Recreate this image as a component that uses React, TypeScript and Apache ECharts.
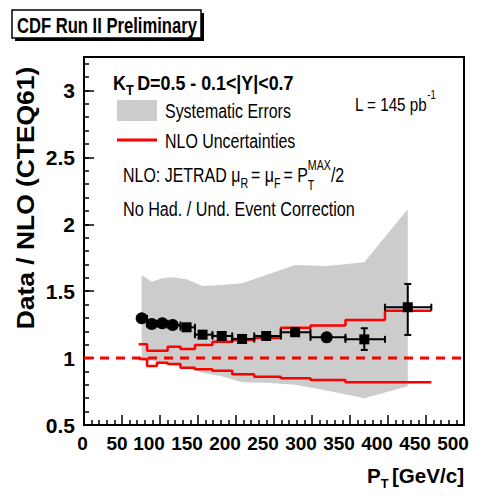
import React, { useEffect, useRef } from 'react';
import * as echarts from 'echarts';

const FONT = 'Liberation Sans, Arial, sans-serif';
const NARROW = 'Liberation Sans Narrow, Liberation Sans, Arial, sans-serif';

// pT bin edges [GeV/c]
const binEdges = [72, 83, 96, 110, 127, 146, 169, 195, 224, 259, 298, 344, 396, 457];
// data points
const ptValues = [75.9, 89.1, 103, 116.7, 135, 156, 181.2, 208, 239.7, 277.8, 319.3, 368.8, 426];
const ratioValues = [1.297, 1.255, 1.26, 1.247, 1.23, 1.175, 1.165, 1.143, 1.165, 1.193, 1.155, 1.14, 1.38];
const ratioErrUp = [0.015, 0.015, 0.015, 0.015, 0.015, 0.015, 0.015, 0.02, 0.02, 0.025, 0.03, 0.083, 0.174];
const ratioErrDown = [0.015, 0.015, 0.015, 0.015, 0.015, 0.015, 0.015, 0.02, 0.02, 0.025, 0.03, 0.079, 0.207];
const markerShapes = ['circle', 'circle', 'circle', 'circle', 'rect', 'rect', 'rect', 'rect', 'rect', 'rect', 'circle', 'rect', 'rect'];
// systematic error band
const sysUpper = [1.621, 1.571, 1.596, 1.604, 1.589, 1.539, 1.546, 1.559, 1.621, 1.696, 1.688, 1.716, 2.112];
const sysLower = [0.975, 0.985, 0.955, 0.945, 0.93, 0.89, 0.865, 0.82, 0.815, 0.8, 0.757, 0.7, 0.79];
// NLO uncertainty band (per bin)
const nloUpper = [1.103, 1.055, 1.055, 1.085, 1.068, 1.098, 1.123, 1.135, 1.15, 1.227, 1.244, 1.285, 1.354];
const nloLower = [0.993, 0.941, 0.966, 0.956, 0.928, 0.916, 0.906, 0.879, 0.861, 0.849, 0.836, 0.819, 0.819];
// axis ticks
const xTickLabels = ['0', '50', '100', '150', '200', '250', '300', '350', '400', '450', '500'];
const yTickLabels = ['0.5', '1', '1.5', '2', '2.5', '3'];

const stepData = (vals: number[]) =>
  binEdges.map((e, i) => [e, vals[Math.min(i, vals.length - 1)]]);

export default function App() {
  const ref = useRef<HTMLDivElement>(null);
  useEffect(() => {
    if (!ref.current) return;
    const chart = echarts.init(ref.current, undefined, { renderer: 'svg' });
    const axisLineStyle = { color: '#000', width: 2 };
    const xRich = (pad: number) => ({ fontSize: 19, fontWeight: 'bold', fontFamily: NARROW, color: '#000', padding: [0, pad, 0, 0] });
    const option: any = {
      animation: false,
      grid: { left: 84, right: 19, top: 57, bottom: 71, show: true, borderColor: '#000', borderWidth: 2, backgroundColor: 'rgba(0,0,0,0)' },
      xAxis: {
        type: 'value', min: 0, max: 500, interval: 50,
        axisLine: { lineStyle: axisLineStyle },
        axisTick: { inside: true, length: 10, lineStyle: { color: '#000', width: 1.5 } },
        minorTick: { show: true, splitNumber: 5, length: 5, lineStyle: { color: '#000', width: 1.5 } },
        splitLine: { show: false },
        axisLabel: {
          margin: 9, fontSize: 19, fontWeight: 'bold', color: '#000', fontFamily: NARROW,
          formatter: (v: number) => {
            const s = String(v);
            if (!xTickLabels.includes(s)) return '';
            return `{d${s.length}|${s}}`;
          },
          rich: { d1: xRich(3), d2: xRich(10), d3: xRich(22) },
        },
      },
      yAxis: [
        {
          type: 'value', min: 0.5, max: 3.25, interval: 0.5, position: 'left',
          axisLine: { lineStyle: axisLineStyle },
          axisTick: { inside: true, length: 10, lineStyle: { color: '#000', width: 1.5 } },
          splitLine: { show: false },
          axisLabel: {
            margin: 9, fontSize: 21, fontWeight: 'bold', color: '#000', fontFamily: NARROW,
            formatter: (v: number) => {
              const s = String(Math.round(v * 100) / 100);
              return yTickLabels.includes(s) ? s : '';
            },
          },
        },
        {
          type: 'value', min: 0.5, max: 3.25, interval: 0.1, position: 'left',
          axisLine: { show: false },
          axisTick: { inside: true, length: 5, lineStyle: { color: '#000', width: 1.5 } },
          splitLine: { show: false },
          axisLabel: { show: false },
        },
      ],
      series: [
        {
          type: 'custom', z: 1, data: [[0, 1]], encode: { x: 0, y: 1 }, silent: true,
          renderItem: (_p: any, api: any) => {
            const pts: number[][] = [];
            for (let i = 0; i < ptValues.length; i++) pts.push(api.coord([ptValues[i], sysUpper[i]]));
            for (let i = ptValues.length - 1; i >= 0; i--) pts.push(api.coord([ptValues[i], sysLower[i]]));
            return { type: 'polygon', shape: { points: pts }, style: { fill: '#cccccc' } };
          },
        },
        {
          type: 'line', z: 2, data: [[0, 1], [500, 1]], symbol: 'none',
          lineStyle: { color: '#ff0000', width: 3, type: [9, 7] },
        },
        {
          type: 'line', z: 3, step: 'end', data: stepData(nloUpper), symbol: 'none',
          lineStyle: { color: '#ff0000', width: 2.5 },
        },
        {
          type: 'line', z: 3, step: 'end', data: stepData(nloLower), symbol: 'none',
          lineStyle: { color: '#ff0000', width: 2.5 },
        },
        {
          type: 'custom', z: 4, encode: { x: 0, y: 1 },
          data: ptValues.map((x, i) => [x, ratioValues[i], binEdges[i], binEdges[i + 1], ratioValues[i] - ratioErrDown[i], ratioValues[i] + ratioErrUp[i]]),
          renderItem: (_p: any, api: any) => {
            const x = api.value(0), y = api.value(1);
            const l = api.coord([api.value(2), y]);
            const r = api.coord([api.value(3), y]);
            const b = api.coord([x, api.value(4)]);
            const t = api.coord([x, api.value(5)]);
            const st = { stroke: '#000', lineWidth: 2 };
            return {
              type: 'group',
              children: [
                { type: 'line', shape: { x1: l[0], y1: l[1], x2: r[0], y2: r[1] }, style: st },
                { type: 'line', shape: { x1: l[0], y1: l[1] - 3.5, x2: l[0], y2: l[1] + 3.5 }, style: st },
                { type: 'line', shape: { x1: r[0], y1: r[1] - 3.5, x2: r[0], y2: r[1] + 3.5 }, style: st },
                { type: 'line', shape: { x1: b[0], y1: b[1], x2: t[0], y2: t[1] }, style: st },
                { type: 'line', shape: { x1: t[0] - 3.5, y1: t[1], x2: t[0] + 3.5, y2: t[1] }, style: st },
                { type: 'line', shape: { x1: b[0] - 3.5, y1: b[1], x2: b[0] + 3.5, y2: b[1] }, style: st },
              ],
            };
          },
        },
        {
          type: 'scatter', z: 5,
          data: ptValues.map((x, i) => ({
            value: [x, ratioValues[i]],
            symbol: markerShapes[i],
            symbolSize: markerShapes[i] === 'circle' ? 12 : 10,
          })),
          itemStyle: { color: '#000', opacity: 1 },
        },
      ],
      graphic: [
        { type: 'rect', shape: { x: 15, y: 13, width: 189, height: 28 }, style: { fill: '#000' } },
        { type: 'rect', shape: { x: 12, y: 10, width: 189, height: 28 }, style: { fill: '#fff', stroke: '#000', lineWidth: 1.5 } },
        {
          type: 'text', x: 17, y: 25, scaleX: 0.755,
          style: { text: 'CDF Run II Preliminary', fontSize: 22, fontWeight: 'bold', fontFamily: FONT, fill: '#000', verticalAlign: 'middle' },
        },
        {
          type: 'text', x: 25, y: 198, rotation: Math.PI / 2, scaleX: 1.1,
          style: { text: 'Data / NLO (CTEQ61)', fontSize: 24, fontWeight: 'bold', fontFamily: FONT, fill: '#000', align: 'center', verticalAlign: 'middle' },
        },
        {
          type: 'text', x: 113, y: 82, scaleX: 0.85,
          style: {
            text: '{b|K}{s|T }{b|D=0.5 - 0.1<|Y|<0.7}', verticalAlign: 'middle', fill: '#000',
            rich: {
              b: { fontSize: 21, fontWeight: 'bold', fontFamily: FONT, fill: '#000' },
              s: { fontSize: 15, fontWeight: 'bold', fontFamily: FONT, fill: '#000', padding: [15, 0, 0, 0] },
            },
          },
        },
        { type: 'rect', shape: { x: 117, y: 100, width: 40, height: 21 }, style: { fill: '#cccccc' } },
        { type: 'line', shape: { x1: 117, y1: 140, x2: 157, y2: 140 }, style: { stroke: '#ff0000', lineWidth: 3 } },
        {
          type: 'text', x: 165, y: 111, scaleX: 0.76,
          style: { text: 'Systematic Errors', fontSize: 21, fontFamily: FONT, fill: '#000', verticalAlign: 'middle' },
        },
        {
          type: 'text', x: 165, y: 141, scaleX: 0.76,
          style: { text: 'NLO Uncertainties', fontSize: 21, fontFamily: FONT, fill: '#000', verticalAlign: 'middle' },
        },
        {
          type: 'text', x: 355, y: 104, scaleX: 0.8,
          style: {
            text: '{n|L = 145 pb}{p|-1}', verticalAlign: 'middle', fill: '#000',
            rich: {
              n: { fontSize: 19, fontFamily: FONT, fill: '#000' },
              p: { fontSize: 12, fontFamily: FONT, fill: '#000', padding: [0, 0, 18, 0] },
            },
          },
        },
        {
          type: 'text', x: 123, y: 175, scaleX: 0.76,
          style: {
            text: '{n|NLO: JETRAD μ}{s|R }{n|= μ}{s|F }{n|= P}{z|T}{p|MAX}{n|/2}', verticalAlign: 'middle', fill: '#000',
            rich: {
              n: { fontSize: 21, fontFamily: FONT, fill: '#000' },
              s: { fontSize: 14, fontFamily: FONT, fill: '#000', padding: [18, 0, 0, 0] },
              z: { fontSize: 14, fontFamily: FONT, fill: '#000', padding: [22, 0, 0, 0], width: 0 },
              p: { fontSize: 14, fontFamily: FONT, fill: '#000', padding: [0, 0, 20, 0] },
            },
          },
        },
        {
          type: 'text', x: 123, y: 209, scaleX: 0.77,
          style: { text: 'No Had. / Und. Event Correction', fontSize: 21, fontFamily: FONT, fill: '#000', verticalAlign: 'middle' },
        },
        {
          type: 'text', x: 464, y: 475, scaleX: 0.98,
          style: {
            text: '{b|P}{s|T }{b|[GeV/c]}', align: 'right', verticalAlign: 'middle', fill: '#000',
            rich: {
              b: { fontSize: 21, fontWeight: 'bold', fontFamily: FONT, fill: '#000' },
              s: { fontSize: 13, fontWeight: 'bold', fontFamily: FONT, fill: '#000', padding: [17, 0, 0, 0] },
            },
          },
        },
      ],
    };
    chart.setOption(option);
    return () => chart.dispose();
  }, []);
  return <div ref={ref} style={{ position: 'fixed', left: 0, top: 0, width: 483, height: 496, background: '#fff' }} />;
}
